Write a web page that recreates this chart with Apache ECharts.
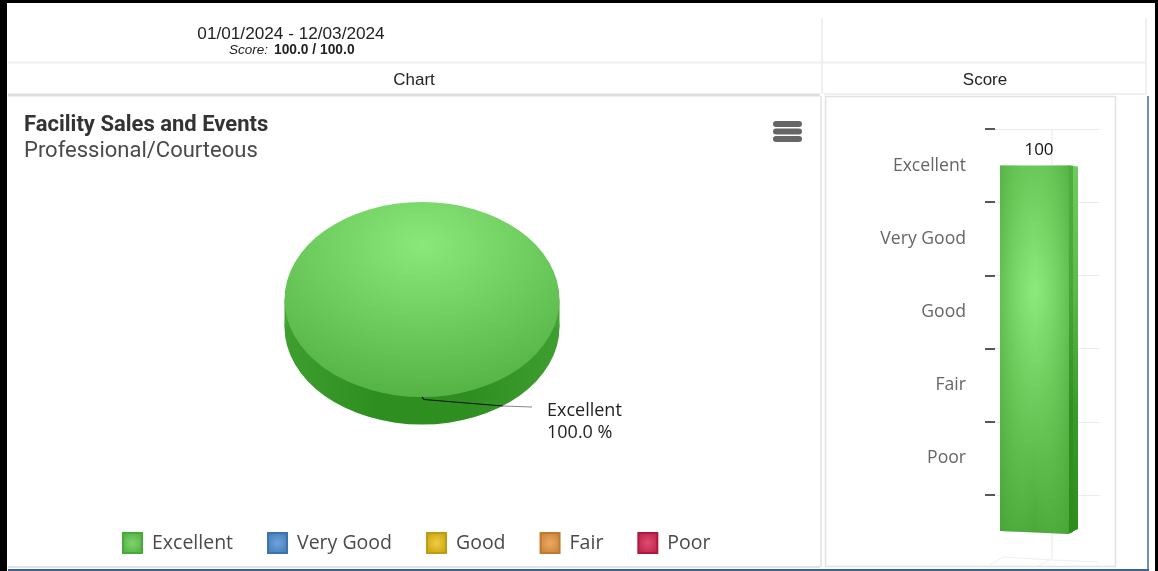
<!DOCTYPE html>
<html><head><meta charset="utf-8">
<style>html,body{margin:0;padding:0;background:#000;overflow:hidden}#c{width:1158px;height:571px}</style>
<script src="https://cdn.jsdelivr.net/npm/echarts@6/dist/echarts.min.js"></script>
</head><body><div id="c"></div>
<script>
const ratingNames = ['Excellent','Very Good','Good','Fair','Poor'];
const ratingShares = [100,0,0,0,0];
const ratingColors = ['#7fd46c','#6ea4dc','#f0cd3e','#eeaa62','#e24c72'];
const ratingEdges = ['#48a838','#3a73ad','#c09a10','#c07a30','#b01840'];
const scoreValue = [100];
const scoreTicks = {0:'',20:'Poor',40:'Fair',60:'Good',80:'Very Good',100:'Excellent'};
const headerDates = '01/01/2024 - 12/03/2024';
const labelFont = '"Open Sans"';
const chart = echarts.init(document.getElementById('c'),null,{renderer:'canvas'});
const rg = (x,y,r,a,b)=>({type:'radial',x,y,r,colorStops:[{offset:0,color:a},{offset:1,color:b}]});
const lin = (x,y,x2,y2,stops)=>({type:'linear',x,y,x2,y2,colorStops:stops.map((c,i)=>({offset:i/(stops.length-1),color:c}))});
const total = ratingShares.reduce((a,b)=>a+b,0);
function pieItem(idx){
  return function(params,api){
    const cx=422,cy=299.5,rx=137.5,ry=97.5,depth=27.5;
    const before=ratingShares.slice(0,idx).reduce((a,b)=>a+b,0);
    const v=api.value(0);
    if(!v) return {type:'group',children:[]};
    const sa=-Math.PI/2+before/total*2*Math.PI, ea=sa+v/total*2*Math.PI;
    return {type:'group',children:[
      {type:'sector',x:cx,y:cy+depth,scaleY:ry/rx,shape:{cx:0,cy:0,r:rx,startAngle:sa,endAngle:ea},
       style:{fill:lin(0,0,1,0,['#3f9e30','#2e8e20','#2e8e20','#3f9e30'])}},
      {type:'rect',shape:{x:cx-rx,y:cy,width:rx*2,height:depth},
       style:{fill:lin(0,0,1,0,['#45a436','#2f8f22','#2f8f22','#45a436'])}},
      {type:'sector',x:cx,y:cy,scaleY:ry/rx,shape:{cx:0,cy:0,r:rx,startAngle:sa,endAngle:ea},
       style:{fill:rg(0.5,0.22,0.8,'#8ae87a','#54b143')}}
    ]};
  };
}
const pieSeries = ratingNames.map((n,i)=>({
  type:'custom',name:n,coordinateSystem:'none',silent:true,animation:false,
  renderItem:pieItem(i),data:[[ratingShares[i]]],
  itemStyle:{color:rg(0.5,0.5,0.75,ratingColors[i],ratingEdges[i]),borderColor:ratingEdges[i],borderWidth:0.5}
}));
chart.setOption({
  animation:false,backgroundColor:'transparent',
  title:[{text:'Facility Sales and Events',subtext:'Professional/Courteous',left:19,top:109,itemGap:4,
    textStyle:{fontFamily:'Roboto',fontSize:22,fontWeight:'bold',color:'#333'},
    subtextStyle:{fontFamily:'Roboto',fontSize:22,color:'#4a4a4a'}}],
  legend:{left:117,top:527,itemWidth:19,itemHeight:20,itemGap:34,icon:'rect',data:ratingNames,selectedMode:false,
    textStyle:{fontFamily:labelFont,fontSize:19.5,color:'#4a4a4a',padding:[0,0,0,5]}},
  grid:[{left:995,width:105,top:165.6,height:365.4,show:false},{left:995,width:105,top:129,height:366,show:false}],
  xAxis:[{gridIndex:0,type:'category',data:['Score'],show:false},{gridIndex:1,type:'category',data:['Score'],show:false}],
  yAxis:[
    {gridIndex:0,type:'value',min:0,max:100,interval:20,axisLine:{show:false},axisTick:{show:false},splitLine:{show:false},
     axisLabel:{margin:29,fontFamily:labelFont,fontSize:17.6,color:'#666',padding:[2,0,0,0],formatter:v=>scoreTicks[v]}},
    {gridIndex:1,type:'value',min:0,max:100,interval:20,axisLine:{show:false},axisLabel:{show:false},
     axisTick:{show:true,length:10,lineStyle:{color:'#222',width:1.5}},splitLine:{show:true,lineStyle:{color:'#ebebeb'}}}
  ],
  graphic:[
    {type:'rect',z:-1,shape:{x:7,y:3,width:1148,height:568},style:{fill:'#fff'}},
    {type:'line',shape:{x1:8,y1:62.5,x2:1146,y2:62.5},style:{stroke:'#f0f0f0',lineWidth:2}},
    {type:'line',shape:{x1:8,y1:95,x2:820,y2:95},style:{stroke:'#dedede',lineWidth:3}},
    {type:'line',shape:{x1:824,y1:94,x2:1146,y2:94},style:{stroke:'#efefef',lineWidth:2}},
    {type:'line',shape:{x1:8,y1:567,x2:820,y2:567},style:{stroke:'#e2e2e2',lineWidth:2}},
    {type:'line',shape:{x1:822,y1:18,x2:822,y2:94},style:{stroke:'#efefef',lineWidth:2}},
    {type:'line',shape:{x1:1146,y1:18,x2:1146,y2:94},style:{stroke:'#efefef',lineWidth:2}},
    ...[[821,96,821,567],[825.5,96,825.5,567],[1115.5,96,1115.5,567]].map(l=>({type:'line',shape:{x1:l[0],y1:l[1],x2:l[2],y2:l[3]},style:{stroke:'#e2e2e2',lineWidth:1.5}})),
    {type:'line',shape:{x1:825,y1:96.5,x2:1116,y2:96.5},style:{stroke:'#e2e2e2',lineWidth:1.5}},
    {type:'line',shape:{x1:825,y1:566.5,x2:1116,y2:566.5},style:{stroke:'#e2e2e2',lineWidth:1.5}},
    {type:'line',shape:{x1:1148,y1:96,x2:1148,y2:570},style:{stroke:'#6d8fb8',lineWidth:2}},
    {type:'line',shape:{x1:8,y1:570,x2:1149,y2:570},style:{stroke:'#3f6390',lineWidth:2}},
    {type:'text',style:{text:headerDates,x:291,y:34,align:'center',verticalAlign:'middle',font:'17.2px "Liberation Sans"',fill:'#222'}},
    {type:'text',style:{text:'Score:',x:229,y:50.5,verticalAlign:'middle',font:'italic 13.5px "Liberation Sans"',fill:'#222'}},
    {type:'text',style:{text:'100.0 / 100.0',x:274,y:50.5,verticalAlign:'middle',font:'bold 13.8px "Liberation Sans"',fill:'#222'}},
    {type:'text',style:{text:'Chart',x:414,y:80,align:'center',verticalAlign:'middle',font:'17px "Liberation Sans"',fill:'#222'}},
    {type:'text',style:{text:'Score',x:985,y:80,align:'center',verticalAlign:'middle',font:'17px "Liberation Sans"',fill:'#222'}},
    ...[124,131.5,139].map(y=>({type:'rect',shape:{x:773,y:y-3,width:29,height:6,r:3},style:{fill:'#666'}})),
    {type:'polyline',z:20,shape:{points:[[422,397],[424,399.5],[503,406]]},style:{stroke:'#111',fill:null,lineWidth:1.2}},
    {type:'line',z:20,shape:{x1:503,y1:406,x2:532,y2:407},style:{stroke:'#888',lineWidth:1.2}},
    {type:'text',z:20,style:{text:ratingNames[0],x:547,y:410.5,verticalAlign:'middle',font:'18px '+labelFont,fill:'#222'}},
    {type:'text',z:20,style:{text:ratingShares[0].toFixed(1)+' %',x:547,y:432.5,verticalAlign:'middle',font:'18px '+labelFont,fill:'#222'}},
    {type:'line',shape:{x1:1052,y1:129,x2:1052,y2:559},style:{stroke:'#e8e8e8'}},
    {type:'line',shape:{x1:1052,y1:560,x2:1099,y2:562},style:{stroke:'#eeeeee'}},
    {type:'line',shape:{x1:988,y1:566,x2:1003,y2:557},style:{stroke:'#eeeeee'}},
    {type:'line',shape:{x1:1003,y1:557,x2:1052,y2:560},style:{stroke:'#eeeeee'}},
    {type:'line',shape:{x1:1038,y1:566,x2:1050,y2:560},style:{stroke:'#eeeeee'}}
  ],
  series:[
    ...pieSeries,
    {type:'custom',xAxisIndex:0,yAxisIndex:0,coordinateSystem:'cartesian2d',z:3,silent:true,data:[[0,scoreValue[0]]],
     renderItem(p,api){
       const top=api.coord([0,api.value(1)]), bot=api.coord([0,0]);
       const L=1000,R=1069,M=1073,B=1078;
       return {type:'group',children:[
         {type:'polygon',shape:{points:[[R-1,top[1]],[B,top[1]+1],[B,bot[1]-2],[R-1,bot[1]+3]]},
          style:{fill:lin(0,0,0,1,['#70cb5e','#5cba4a','#3a9a2a','#2d8c1c'])}},
         {type:'polygon',shape:{points:[[R-1,top[1]],[M,top[1]],[M,bot[1]+1],[R-1,bot[1]+3]]},
          style:{fill:lin(0,0,0,1,['#50ae3e','#48a638','#2f9020','#2d8c1c'])}},
         {type:'polygon',shape:{points:[[L,top[1]],[R,top[1]],[R,bot[1]+3],[L,bot[1]]]},
          style:{fill:rg(0.5,0.34,4,'#8ce97c','#3f9e2e')}},
         {type:'polygon',shape:{points:[[L,top[1]],[R,top[1]],[R,bot[1]+3],[L,bot[1]]]},
          style:{fill:lin(0,0,1,0,['rgba(70,165,55,0.55)','rgba(110,210,90,0)','rgba(70,165,55,0.55)'])}},
         {type:'text',style:{text:String(api.value(1)),x:1039,y:top[1]-15,align:'center',verticalAlign:'middle',font:'17px '+labelFont,fill:'#111'}}
       ]};
     }}
  ]
});
</script></body></html>
